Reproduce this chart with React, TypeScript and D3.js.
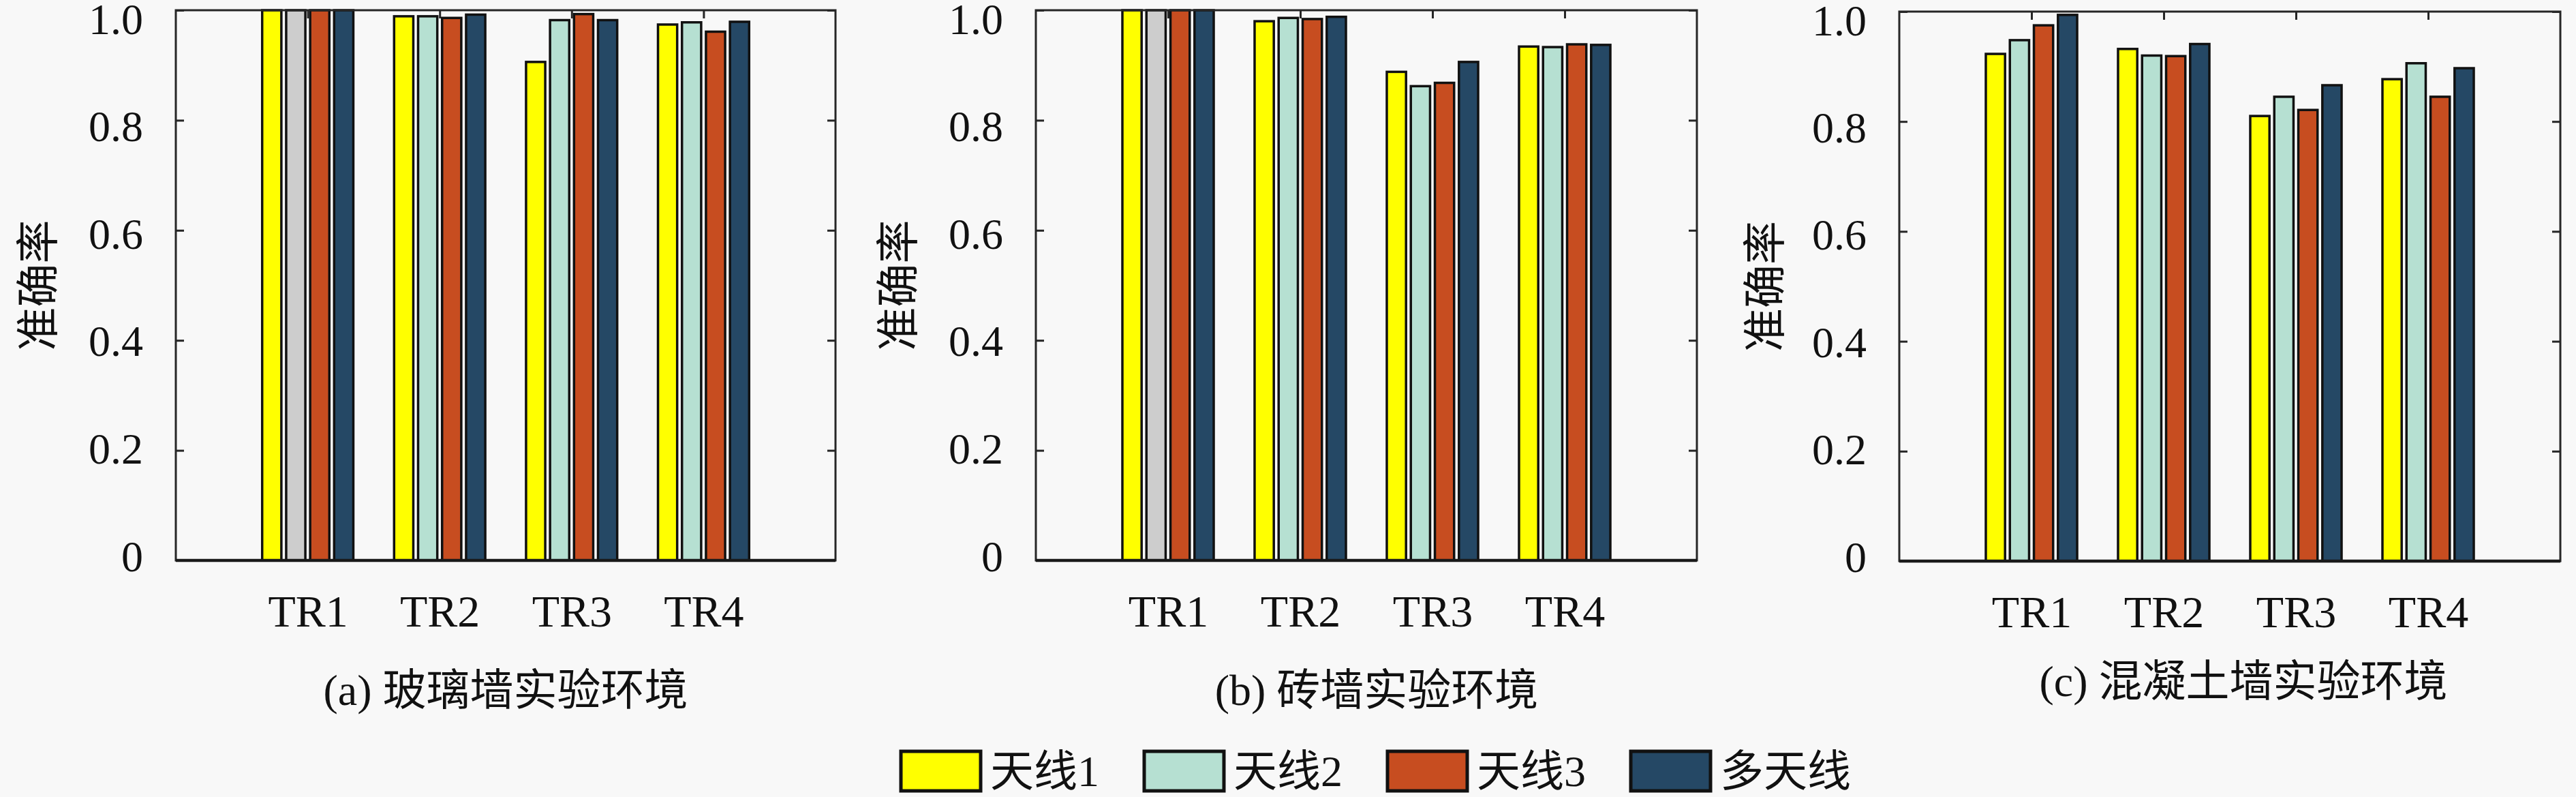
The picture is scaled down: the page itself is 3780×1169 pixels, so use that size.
import React, { useEffect, useRef } from 'react';
import * as d3 from 'd3';

const categories = ['TR1', 'TR2', 'TR3', 'TR4'];
const seriesNames = ['天线1', '天线2', '天线3', '多天线'];
const yTicks = [0, 0.2, 0.4, 0.6, 0.8, 1.0];

// rows = TR1..TR4, columns = 天线1, 天线2, 天线3, 多天线
const glassValues = [
  [1.0, 1.0, 1.0, 1.0],
  [0.989, 0.989, 0.986, 0.992],
  [0.906, 0.982, 0.993, 0.982],
  [0.974, 0.978, 0.961, 0.979],
];
const brickValues = [
  [1.0, 1.0, 1.0, 1.0],
  [0.98, 0.986, 0.984, 0.988],
  [0.888, 0.862, 0.868, 0.906],
  [0.934, 0.933, 0.938, 0.937],
];
const concreteValues = [
  [0.923, 0.948, 0.975, 0.994],
  [0.932, 0.92, 0.919, 0.941],
  [0.81, 0.845, 0.821, 0.866],
  [0.877, 0.906, 0.845, 0.897],
];

const captions = ['(a) 玻璃墙实验环境', '(b) 砖墙实验环境', '(c) 混凝土墙实验环境'];
const yLabel = '准确率';

const colors = ['#ffff00', '#b6e0d2', '#c74d20', '#254865'];
const greyFill = '#cdcdcd';

const W = 3780;
const H = 1169;
const FONT = '"Liberation Serif", "Noto Sans CJK SC", serif';

const panels = [
  { values: glassValues, greyFirst: true, left: 258, right: 1226, top: 15, bottom: 822, captionY: 1012, captionDx: 0, labelX: 56 },
  { values: brickValues, greyFirst: true, left: 1520, right: 2490, top: 15, bottom: 822, captionY: 1012, captionDx: 15, labelX: 1318 },
  { values: concreteValues, greyFirst: false, left: 2787, right: 3757, top: 17, bottom: 823, captionY: 999, captionDx: 20, labelX: 2590 },
];

export default function App() {
  const svgRef = useRef<SVGSVGElement>(null);

  useEffect(() => {
    document.body.style.margin = '0';
    const svg = d3.select(svgRef.current);
    svg.selectAll('*').remove();
    svg.append('rect').attr('width', W).attr('height', H).attr('fill', '#f8f8f8');

    const n = seriesNames.length;

    panels.forEach((p, pi) => {
      const x = d3.scaleLinear().domain([0, categories.length + 1]).range([p.left, p.right]);
      const y = d3.scaleLinear().domain([0, 1]).range([p.bottom, p.top]);
      // tick labels in the exported figure sit on a slightly tighter spacing than the ticks
      const yLab = d3.scaleLinear().domain([0, 1]).range([p.bottom - 6, p.top + 13]);
      const unit = x(1) - x(0);
      const groupWidth = Math.min(0.8, n / (n + 1.5));
      const slot = (unit * groupWidth) / n;
      const barW = slot * 0.8;

      const g = svg.append('g');

      // bars
      const groups = g
        .selectAll('g.group')
        .data(p.values)
        .join('g')
        .attr('class', 'group');
      groups
        .selectAll('rect')
        .data((row, ci) => row.map((v, si) => ({ v, si, ci })))
        .join('rect')
        .attr('x', (d) => x(d.ci + 1) + (d.si - (n - 1) / 2) * slot - barW / 2)
        .attr('y', (d) => y(d.v))
        .attr('width', barW)
        .attr('height', (d) => y(0) - y(d.v))
        .attr('fill', (d) => (p.greyFirst && d.ci === 0 && d.si === 1 ? greyFill : colors[d.si]))
        .attr('stroke', '#111')
        .attr('stroke-width', 3.5);

      // y axis, inward ticks on both sides
      const yAxis = d3.axisLeft(y).tickValues(yTicks).tickSize(-12).tickFormat(() => '');
      const yg = g.append('g').attr('transform', `translate(${p.left},0)`).call(yAxis);
      yg.select('.domain').remove();
      yg.selectAll('line').attr('stroke', '#262626').attr('stroke-width', 3);

      g.append('g')
        .selectAll('text')
        .data(yTicks)
        .join('text')
        .attr('x', p.left - 48)
        .attr('y', (d) => yLab(d))
        .attr('text-anchor', 'end')
        .attr('dominant-baseline', 'central')
        .attr('font-family', FONT)
        .attr('font-size', 64)
        .attr('fill', '#111')
        .text((d) => (d === 0 ? '0' : d3.format('.1f')(d)));

      const yRight = d3.axisRight(y).tickValues(yTicks).tickSize(-12).tickFormat(() => '');
      const yr = g.append('g').attr('transform', `translate(${p.right},0)`).call(yRight);
      yr.select('.domain').remove();
      yr.selectAll('line').attr('stroke', '#262626').attr('stroke-width', 3);

      // top ticks at category positions
      const xTop = d3.axisTop(x).tickValues([1, 2, 3, 4]).tickSize(-12).tickFormat(() => '');
      const xt = g.append('g').attr('transform', `translate(0,${p.top})`).call(xTop);
      xt.select('.domain').remove();
      xt.selectAll('line').attr('stroke', '#262626').attr('stroke-width', 3);

      // bottom category labels
      const xBottom = d3
        .axisBottom(x)
        .tickValues([1, 2, 3, 4])
        .tickSize(0)
        .tickPadding(50)
        .tickFormat((d) => categories[+d - 1]);
      const xb = g.append('g').attr('transform', `translate(0,${p.bottom})`).call(xBottom);
      xb.select('.domain').remove();
      xb.selectAll('text').attr('font-family', FONT).attr('font-size', 66).attr('fill', '#111');

      // box
      g.append('rect')
        .attr('x', p.left)
        .attr('y', p.top)
        .attr('width', p.right - p.left)
        .attr('height', p.bottom - p.top)
        .attr('fill', 'none')
        .attr('stroke', '#262626')
        .attr('stroke-width', 3);
      g.append('line')
        .attr('x1', p.left)
        .attr('x2', p.right)
        .attr('y1', p.bottom)
        .attr('y2', p.bottom)
        .attr('stroke', '#1a1a1a')
        .attr('stroke-width', 4.5);

      // y label
      g.append('text')
        .attr('transform', `translate(${p.labelX},${(p.top + p.bottom) / 2}) rotate(-90)`)
        .attr('text-anchor', 'middle')
        .attr('dominant-baseline', 'central')
        .attr('font-family', FONT)
        .attr('font-size', 64)
        .attr('fill', '#111')
        .text(yLabel);

      // caption
      g.append('text')
        .attr('x', (p.left + p.right) / 2 + p.captionDx)
        .attr('y', p.captionY)
        .attr('text-anchor', 'middle')
        .attr('dominant-baseline', 'central')
        .attr('font-family', FONT)
        .attr('font-size', 64)
        .attr('fill', '#111')
        .text(captions[pi]);
    });

    // legend
    const legend = svg.append('g');
    let lx = 1322;
    const swW = 117;
    const swH = 58;
    const swY = 1102;
    seriesNames.forEach((name, i) => {
      legend
        .append('rect')
        .attr('x', lx)
        .attr('y', swY)
        .attr('width', swW)
        .attr('height', swH)
        .attr('fill', colors[i])
        .attr('stroke', '#111')
        .attr('stroke-width', 5);
      const t = legend
        .append('text')
        .attr('x', lx + swW + 14)
        .attr('y', swY + swH / 2)
        .attr('dominant-baseline', 'central')
        .attr('font-family', FONT)
        .attr('font-size', 64)
        .attr('fill', '#111')
        .text(name);
      const tw = (t.node() as SVGTextElement).getComputedTextLength();
      lx += swW + 14 + tw + 66;
    });
  }, []);

  return <svg ref={svgRef} width={W} height={H} style={{ display: 'block' }} />;
}
